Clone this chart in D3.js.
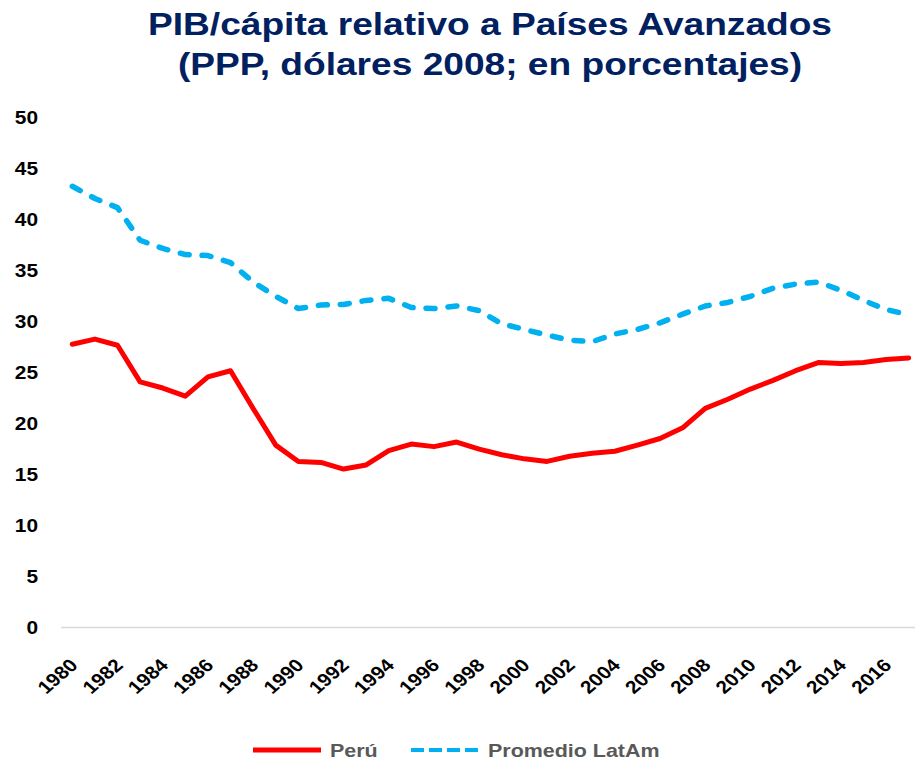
<!DOCTYPE html>
<html>
<head>
<meta charset="utf-8">
<script src="https://cdn.jsdelivr.net/npm/d3@7"></script>
<style>
  body { margin: 0; background: #fff; }
  text { font-family: "Liberation Sans", Arial, sans-serif; font-weight: bold; }
</style>
</head>
<body>
<div id="chart"></div>
<script>
// data
const years = d3.range(1980, 2018)
const peru = [27.8, 28.3, 27.7, 24.1, 23.5, 22.7, 24.6, 25.2, 21.5, 17.9,
              16.3, 16.2, 15.55, 15.95, 17.35, 18.0, 17.75, 18.2, 17.5, 16.95,
              16.55, 16.3, 16.8, 17.1, 17.3, 17.9, 18.55, 19.6, 21.5, 22.4,
              23.4, 24.25, 25.2, 26.0, 25.9, 26.0, 26.3, 26.45]
const latam = [43.3, 42.1, 41.2, 38.0, 37.2, 36.6, 36.5, 35.8, 33.9, 32.5,
               31.3, 31.65, 31.7, 32.1, 32.3, 31.4, 31.3, 31.55, 31.1, 29.8,
               29.25, 28.7, 28.2, 28.05, 28.8, 29.25, 29.9, 30.75, 31.55, 31.9,
               32.5, 33.3, 33.7, 33.9, 33.1, 32.1, 31.2, 30.7]
const yTicks = [0, 5, 10, 15, 20, 25, 30, 35, 40, 45, 50]
const titleLines = ["PIB/cápita relativo a Países Avanzados", "(PPP, dólares 2008; en porcentajes)"]

const width = 915
const height = 760
// the reference looks stretched sideways a bit, text too
const sx = 1.16

//scales
const xScale = d3.scaleBand()
    .domain(years)
    .range([61, 920])
const yScale = d3.scaleLinear()
    .domain([0, 50])
    .range([627.5, 118])
const xc = d => xScale(d) + xScale.bandwidth()/2

const svg = d3.select("#chart")
    .append("svg")
    .attr("width", width)
    .attr("height", height)

//title
svg.selectAll("text.title")
    .data(titleLines)
    .join("text")
    .attr("class", "title")
    .attr("transform", (d, i) => `translate(490,${35 + i*40}) scale(${sx},1)`)
    .attr("text-anchor", "middle")
    .attr("fill", "#002060")
    .attr("font-size", 32)
    .text(d => d)

//y labels
svg.selectAll("text.ylab")
    .data(yTicks)
    .join("text")
    .attr("class", "ylab")
    .attr("transform", d => `translate(38,${yScale(d)}) scale(${sx},1)`)
    .attr("dy", "0.36em")
    .attr("text-anchor", "end")
    .attr("font-size", 18)
    .attr("fill", "#000")
    .text(d => d)

//x axis line
svg.append("line")
    .attr("x1", 61).attr("x2", width)
    .attr("y1", yScale(0)).attr("y2", yScale(0))
    .attr("stroke", "#d9d9d9")
    .attr("stroke-width", 1.5)

//x labels, every other year
svg.selectAll("text.xlab")
    .data(years.filter(d => d % 2 == 0))
    .join("text")
    .attr("class", "xlab")
    .attr("transform", d => `translate(${xc(d) + 1.5},662) scale(${sx},1) rotate(-45)`)
    .attr("dy", "0.35em")
    .attr("text-anchor", "end")
    .attr("font-size", 18)
    .attr("fill", "#000")
    .text(d => d)

//lines
const line = vals => d3.line()
    .x((d, i) => xc(years[i]))
    .y(d => yScale(d))(vals)

svg.append("path")
    .attr("d", line(latam))
    .attr("fill", "none")
    .attr("stroke", "#00B0F0")
    .attr("stroke-width", 5.5)
    .attr("stroke-dasharray", "9,13")
    .attr("stroke-linecap", "round")
    .attr("stroke-linejoin", "round")

svg.append("path")
    .attr("d", line(peru))
    .attr("fill", "none")
    .attr("stroke", "#FF0000")
    .attr("stroke-width", 5)
    .attr("stroke-linecap", "round")
    .attr("stroke-linejoin", "round")

//legend
const legend = [
  {name: "Perú", color: "#FF0000", dash: null, x: 253},
  {name: "Promedio LatAm", color: "#00B0F0", dash: "13,5", x: 411}
]
const lg = svg.selectAll("g.legend")
    .data(legend)
    .join("g")
    .attr("class", "legend")
    .attr("transform", d => `translate(${d.x},750)`)
lg.append("line")
    .attr("x1", 0).attr("x2", 68)
    .attr("stroke", d => d.color)
    .attr("stroke-width", d => d.dash ? 4 : 5)
    .attr("stroke-dasharray", d => d.dash)
lg.append("text")
    .attr("transform", `translate(77,0) scale(${sx},1)`)
    .attr("dy", "0.36em")
    .attr("font-size", 18.5)
    .attr("fill", "#595959")
    .text(d => d.name)
</script>
</body>
</html>
